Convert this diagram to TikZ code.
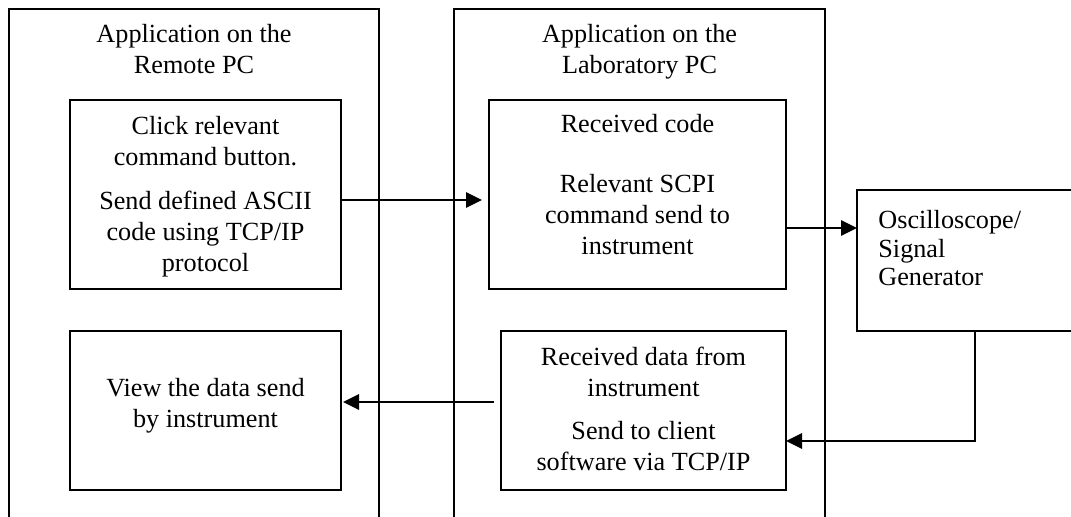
\documentclass[tikz,border=0pt]{standalone}
\usepackage{fontspec}
\setmainfont{Liberation Serif}
\usetikzlibrary{arrows.meta}
% centred block of lines whose first baseline is the node's base
\newcommand{\blk}[2]{\parbox[t]{#1}{\centering #2}}
\begin{document}
\begin{tikzpicture}[x=0.5pt,y=-0.5pt,
  frame/.style={draw, line width=1pt, inner sep=0pt, outer sep=0pt, anchor=north west},
  txt/.style={inner sep=0pt, anchor=base, font=\fontsize{13.1pt}{15.3pt}\selectfont},
  flow/.style={line width=1.45pt, -{Triangle[length=8pt,width=7.5pt]}}]
\useasboundingbox (0,0) rectangle (1071,517);
\fill[white] (0,0) rectangle (1071,517);
\clip (0,0) rectangle (1071,517);

% application frames (open at the bottom)
\node[frame, minimum width=185pt, minimum height=300pt] (remote) at (9,9) {};
\node[frame, minimum width=185.5pt, minimum height=300pt] (lab) at (454,9) {};

% process boxes
\node[frame, minimum width=135.5pt, minimum height=94.5pt] (click) at (70,100) {};
\node[frame, minimum width=135.5pt, minimum height=79.5pt] (view) at (70,331) {};
\node[frame, minimum width=148.5pt, minimum height=94.5pt] (rcode) at (489,100) {};
\node[frame, minimum width=142.5pt, minimum height=79.5pt] (rdata) at (501,331) {};
\node[frame, minimum width=130pt, minimum height=70.5pt] (osc) at (857,190) {};

% titles
\node[txt] (remoteT) at (194,43) {\blk{180pt}{Application on the\\Remote PC}};
\node[txt] (labT) at (639.5,43) {\blk{180pt}{Application on the\\Laboratory PC}};

% box texts
\node[txt] (clickT1) at (205.5,135) {\blk{130pt}{Click relevant\\command button.}};
\node[txt] (clickT2) at (205.5,210) {\blk{130pt}{Send defined ASCII\\code using TCP/IP\\protocol}};
\node[txt] (viewT) at (205.5,397) {\blk{130pt}{View the data send\\by instrument}};
\node[txt] (rcodeT1) at (637.5,133) {\blk{140pt}{Received code}};
\node[txt] (rcodeT2) at (637.5,193) {\blk{140pt}{Relevant SCPI\\command send to\\instrument}};
\node[txt] (rdataT1) at (643.5,366) {\blk{140pt}{Received data from\\instrument}};
\node[txt] (rdataT2) at (643.5,440) {\blk{140pt}{Send to client\\software via TCP/IP}};
\node[txt, anchor=base west, font=\fontsize{13.1pt}{14.2pt}\selectfont] (oscT) at (878,229)
  {\parbox[t]{100pt}{\raggedright Oscilloscope/\\Signal\\Generator}};

% connectors
\coordinate (y1) at (0,200);
\coordinate (y2) at (0,228);
\coordinate (ret) at (975,441);
\coordinate (y4) at (0,402);
\draw[flow] (click.east |- y1) -- ([xshift=-3.5pt]rcode.west |- y1);
\draw[flow] (rcode.east |- y2) -- (osc.west |- y2);
\draw[flow] (osc.south -| ret) |- (rdata.east |- ret);
\draw[flow] ([xshift=-3.5pt]rdata.west |- y4) -- ([xshift=1pt]view.east |- y4);
\end{tikzpicture}
\end{document}
